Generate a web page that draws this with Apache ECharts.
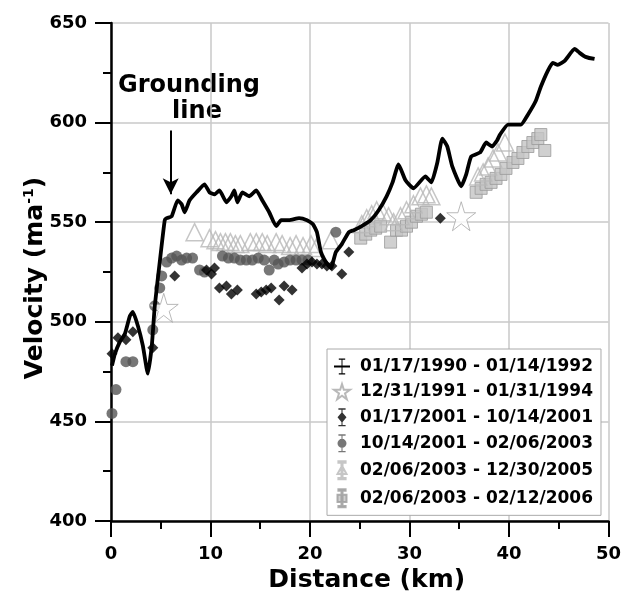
<!DOCTYPE html>
<html>
<head>
<meta charset="UTF-8">
<title>Velocity vs distance</title>
<script src="https://cdn.jsdelivr.net/npm/echarts@6/dist/echarts.min.js"></script>
<style>
html, body { margin: 0; padding: 0; background: #fff; }
#chart { width: 624px; height: 600px; }
</style>
</head>
<body>
<div id="chart"></div>
<script>
// series names (legend order)
var names = ['01/17/1990 - 01/14/1992', '12/31/1991 - 01/31/1994', '01/17/2001 - 10/14/2001',
             '10/14/2001 - 02/06/2003', '02/06/2003 - 12/30/2005', '02/06/2003 - 02/12/2006'];

// [distance km, velocity m/a]
var line1990 = [[0.1,478],[0.4,484],[0.9,490],[1.4,494],[1.9,503],[2.2,505],[2.7,498],[3.2,488],[3.7,474],
  [4.1,488],[4.4,508],[4.9,530],[5.4,551],[5.6,552],[6.1,553],[6.7,561],[7.1,559],[7.4,555],[7.9,561],
  [8.6,565],[9.4,569],[9.9,565],[10.4,564],[10.9,566],[11.6,560],[12.1,563],[12.4,566],[12.7,560],
  [13.2,565],[13.9,563],[14.6,566],[15.2,561],[15.9,555],[16.6,548],[17.1,551],[17.9,551],[18.9,552],
  [19.7,551],[20.3,549],[20.7,545],[21.1,535],[21.6,530],[22.1,527],[22.6,535],[23.2,539],[23.9,545],
  [24.4,546],[25.2,548],[26.1,551],[26.9,556],[27.7,563],[28.3,570],[28.9,579],[29.6,571],[30.4,567],
  [31.6,573],[32.2,570],[32.8,580],[33.3,592],[33.8,588],[34.3,578],[35.2,568],[35.7,574],[36.2,583],
  [37.1,585],[37.7,590],[38.3,588],[38.8,591],[39.1,594],[39.9,599],[40.5,599],[41.2,599],[41.9,604],
  [42.7,611],[43.2,618],[43.9,626],[44.4,630],[44.9,629],[45.6,631],[46.6,637],[47.1,635],[47.7,633],
  [48.6,632]];

var stars1991 = [[5.3,507],[35.2,553]];

var diamonds2001 = [[0.1,484],[0.7,492],[1.5,491],[2.2,495],[4.2,487],[6.4,523],[9.6,526],[10.1,524],
  [10.4,527],[10.9,517],[11.6,518],[12.1,514],[12.7,516],[14.6,514],[15.1,515],[15.6,516],[16.1,517],
  [16.9,511],[17.4,518],[18.2,516],[19.2,527],[19.7,529],[20.2,530],[20.7,529],[21.2,529],[21.7,528],
  [22.2,528],[23.2,524],[23.9,535],[33.1,552]];

var circles2003 = [[0.1,454],[0.5,466],[1.5,480],[2.2,480],[4.2,496],[4.4,508],[4.9,517],[5.1,523],
  [5.6,530],[6.1,532],[6.6,533],[7.1,531],[7.6,532],[8.2,532],[8.9,526],[9.4,525],[11.2,533],[11.8,532],
  [12.4,532],[13.0,531],[13.6,531],[14.2,531],[14.8,532],[15.4,531],[15.9,526],[16.4,531],[16.8,529],
  [17.4,530],[18.0,531],[18.6,531],[19.2,531],[19.8,531],[22.6,545]];

var triangles2005 = [[8.4,545],[9.9,542],[10.5,541],[11.0,540],[11.5,540],[12.0,540],[12.5,539],[13.0,539],
  [14.0,540],[14.6,540],[15.2,540],[15.7,539],[16.6,540],[17.2,539],[18.0,538],[18.6,539],[19.3,538],
  [20.1,539],[20.6,537],[22.1,541],[25.2,549],[25.7,552],[26.2,554],[26.7,556],[27.3,555],[27.9,553],
  [28.4,550],[29.1,553],[29.7,556],[30.4,559],[31.1,563],[31.7,564],[32.2,563],[36.9,573],[37.4,575],
  [37.9,578],[38.4,582],[38.9,585],[39.6,590]];

var squares2006 = [[25.1,542],[25.6,544],[26.1,546],[26.6,547],[27.1,548],[28.1,540],[28.7,546],[29.2,546],
  [29.7,548],[30.2,550],[30.7,553],[31.2,554],[31.7,555],[36.7,565],[37.2,567],[37.7,569],[38.2,570],
  [38.7,572],[39.2,574],[39.7,577],[40.4,580],[40.9,582],[41.4,585],[41.9,588],[42.4,590],[42.9,592],
  [43.2,594],[43.6,586]];

// grounding line arrow
var arrowFrom = [6, 596];
var arrowTo = [6, 564];

var FONT = 'DejaVu Sans';
var STAR = 'path://M50,0 L61,35 L98,35 L68,57 L79,92 L50,70 L21,92 L32,57 L2,35 L39,35 Z';
// legend icons with a little error bar
var BAR = 'M6,0H14V1.5H6Z M9.4,0H10.6V20H9.4Z M6,18.5H14V20H6Z ';
var icons = [
  'path://' + BAR + 'M0,8.6H20V11.4H0Z',
  STAR,
  'path://' + BAR + 'M10,4L15,10L10,16L5,10Z',
  'path://' + BAR + 'M10,5A5,5 0 1,1 9.99,5Z',
  'path://' + BAR + 'M10,5L15,14H5Z',
  'path://' + BAR + 'M5,6H15V14H5Z'
];

var chart = echarts.init(document.getElementById('chart'));

chart.setOption({
  backgroundColor: '#fff',
  animation: false,
  grid: { left: 111, right: 13, top: 23, bottom: 79 },
  xAxis: {
    type: 'value', min: 0, max: 50, interval: 10,
    name: 'Distance (km)', nameLocation: 'middle', nameGap: 46,
    nameTextStyle: { fontFamily: FONT, fontWeight: 'bold', fontSize: 25, color: '#000', padding: [0, 0, 0, 14] },
    axisLine: { show: true, lineStyle: { color: '#000', width: 2.5 } },
    axisTick: { show: true, inside: false, length: 16, lineStyle: { color: '#000', width: 2 } },
    minorTick: { show: true, splitNumber: 2, length: 8, lineStyle: { color: '#000', width: 2 } },
    axisLabel: { margin: 24, fontFamily: FONT, fontWeight: 'bold', fontSize: 18, color: '#000' },
    splitLine: { show: true, lineStyle: { color: '#c8c8c8', width: 1.5 } }
  },
  yAxis: {
    type: 'value', min: 400, max: 650, interval: 50,
    axisLine: { show: true, lineStyle: { color: '#000', width: 2.5 } },
    axisTick: { show: true, inside: false, length: 16, lineStyle: { color: '#000', width: 2 } },
    minorTick: { show: true, splitNumber: 2, length: 8, lineStyle: { color: '#000', width: 2 } },
    axisLabel: { margin: 24, fontFamily: FONT, fontWeight: 'bold', fontSize: 18, color: '#000' },
    splitLine: { show: true, lineStyle: { color: '#c8c8c8', width: 1.5 } }
  },
  legend: {
    data: names.map(function (n, i) { return { name: n, icon: icons[i] }; }),
    orient: 'vertical', left: 327, top: 349,
    padding: [9, 8, 7, 6], itemGap: 8, itemWidth: 16, itemHeight: 18,
    backgroundColor: '#fff', borderColor: '#aaa', borderWidth: 1,
    textStyle: { fontFamily: FONT, fontWeight: 'bold', fontSize: 17, color: '#000', padding: [0, 0, 0, 5] }
  },
  graphic: [
    {
      type: 'text', x: 35, y: 278, rotation: Math.PI / 2,
      style: {
        text: 'Velocity (ma{sup|-1})', align: 'center', verticalAlign: 'middle',
        fontFamily: FONT, fontWeight: 'bold', fontSize: 25, fill: '#000',
        rich: { sup: { fontFamily: FONT, fontWeight: 'bold', fontSize: 14, fill: '#000', verticalAlign: 'bottom', padding: [0, 0, 12, 0] } }
      }
    },
    {
      type: 'text', x: 189, y: 86,
      style: { text: 'Grounding', align: 'center', verticalAlign: 'middle', fontFamily: FONT, fontWeight: 'bold', fontSize: 24, fill: '#000' }
    },
    {
      type: 'text', x: 197, y: 112,
      style: { text: 'line', align: 'center', verticalAlign: 'middle', fontFamily: FONT, fontWeight: 'bold', fontSize: 24, fill: '#000' }
    }
  ],
  series: [
    {
      name: names[5], type: 'scatter', data: squares2006, z: 2,
      symbol: 'rect', symbolSize: 12,
      itemStyle: { color: '#c4c4c4', borderColor: '#9a9a9a', borderWidth: 1 }
    },
    {
      name: names[4], type: 'scatter', data: triangles2005, z: 3,
      symbol: 'triangle', symbolSize: 17,
      itemStyle: { color: 'rgba(255,255,255,0)', borderColor: '#b8b8b8', borderWidth: 1.5 }
    },
    {
      name: names[3], type: 'scatter', data: circles2003, z: 4,
      symbol: 'circle', symbolSize: 11,
      itemStyle: { color: '#555' }
    },
    {
      name: names[2], type: 'scatter', data: diamonds2001, z: 5,
      symbol: 'diamond', symbolSize: 11,
      itemStyle: { color: '#000' }
    },
    {
      name: names[1], type: 'scatter', data: stars1991, z: 6,
      symbol: STAR, symbolSize: 29,
      itemStyle: { color: '#fff', borderColor: '#a8a8a8', borderWidth: 1 }
    },
    {
      name: names[0], type: 'line', data: line1990, z: 7,
      showSymbol: false, symbol: 'none', smooth: 0.15,
      lineStyle: { color: '#000', width: 3.8 },
      itemStyle: { color: '#000' },
      markLine: {
        silent: true, symbol: ['none', 'arrow'], symbolSize: [12, 16],
        label: { show: false },
        lineStyle: { color: '#000', width: 2, type: 'solid' },
        data: [[{ coord: arrowFrom }, { coord: arrowTo }]]
      }
    }
  ]
});
</script>
</body>
</html>
